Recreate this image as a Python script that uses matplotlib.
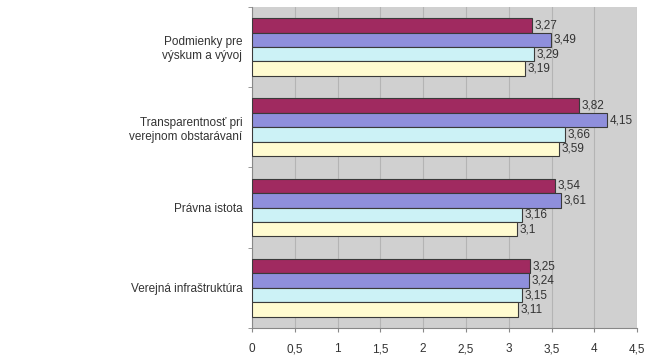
import matplotlib.pyplot as plt
import numpy as np

plt.rcParams['font.family'] = ['Liberation Sans', 'DejaVu Sans']

# categories, top to bottom
categories = ['Podmienky pre\nvýskum a vývoj',
              'Transparentnosť pri\nverejnom obstarávaní',
              'Právna istota',
              'Verejná infraštruktúra']

# four series per category, drawn top to bottom inside a group
series_1 = [3.27, 3.82, 3.54, 3.25]
series_2 = [3.49, 4.15, 3.61, 3.24]
series_3 = [3.29, 3.66, 3.16, 3.15]
series_4 = [3.19, 3.59, 3.1, 3.11]

series = [series_1, series_2, series_3, series_4]
colors = ['#a02a60', '#8f8fdc', '#ccf2f6', '#fffbd0']

x_ticks = [0, 0.5, 1, 1.5, 2, 2.5, 3, 3.5, 4, 4.5]

fig = plt.figure(figsize=(6.65, 3.6), dpi=100)
ax = fig.add_axes([0.379, 0.089, 0.579, 0.892])
ax.set_facecolor('#d0d0d0')

y = np.arange(len(categories))
h = 0.18
offsets = [-1.5 * h, -0.5 * h, 0.5 * h, 1.5 * h]

for vals, col, off in zip(series, colors, offsets):
    bars = ax.barh(y + off, vals, h, color=col, edgecolor='#3a3a3a', linewidth=0.8, zorder=3)
    for b, v in zip(bars, vals):
        txt = ('%g' % v).replace('.', ',')
        ax.text(b.get_width() + 0.03, b.get_y() + b.get_height() / 2, txt,
                va='center', ha='left', fontsize=8.5, color='#333333', zorder=4)

ax.set_ylim(len(categories) - 0.5, -0.5)
ax.set_xlim(0, 4.5)
ax.set_xticks(x_ticks)
ax.set_xticklabels([('%g' % t).replace('.', ',') for t in x_ticks], fontsize=8.5, color='#333333')
ax.set_yticks(y)
ax.set_yticklabels(categories, fontsize=8.5, color='#333333')
ax.set_yticks(np.arange(len(categories) + 1) - 0.5, minor=True)
ax.tick_params(axis='y', which='major', length=0, pad=7)
ax.tick_params(axis='y', which='minor', length=3, color='#888888')
ax.tick_params(axis='x', length=3, color='#888888', pad=8)

ax.grid(axis='x', color='#b4b4b4', linewidth=0.8, zorder=0)
for s in ['top', 'right']:
    ax.spines[s].set_visible(False)
ax.spines['left'].set_color('#888888')
ax.spines['bottom'].set_color('#888888')

plt.savefig('out.png', dpi=100)
